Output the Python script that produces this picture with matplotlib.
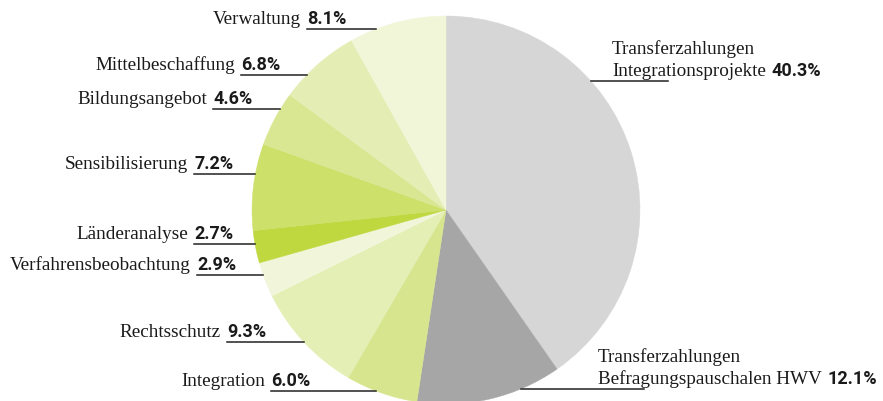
import matplotlib.pyplot as plt
import numpy as np

# slices, clockwise from 12 o'clock
categories = ["Transferzahlungen\nIntegrationsprojekte",
              "Transferzahlungen\nBefragungspauschalen HWV",
              "Integration", "Rechtsschutz", "Verfahrensbeobachtung",
              "Länderanalyse", "Sensibilisierung", "Bildungsangebot",
              "Mittelbeschaffung", "Verwaltung"]
shares = [40.3, 12.1, 6.0, 9.3, 2.9, 2.7, 7.2, 4.6, 6.8, 8.1]
colors = ["#d6d6d6", "#a6a6a6", "#d7e68e", "#e4efb5", "#f1f6da",
          "#c0d840", "#cce06a", "#d9e793", "#e4eeb4", "#f1f6d9"]

# label placement in pixels (y from top): text x, baseline y, side, line end
label_pos = [(612, 76, "r", 668), (598, 384, "r", 644),
             (271, 386, "l", None), (227, 337, "l", None),
             (197, 270, "l", None), (194, 239, "l", None),
             (194, 169, "l", None), (213, 104, "l", None),
             (241, 70, "l", None), (307, 24, "l", None)]

W, H = 883, 402
cx, cy, rad = 446, 211, 194

fig = plt.figure(figsize=(W / 100, H / 100), dpi=100)
ax = fig.add_axes([0, 0, 1, 1])

wedges, _ = ax.pie(shares, colors=colors, startangle=90, counterclock=False,
                   center=(cx, H - cy), radius=rad, frame=True)
for w in wedges:
    w.set_edgecolor(w.get_facecolor())
    w.set_linewidth(0.3)
ax.set_xlim(0, W)
ax.set_ylim(0, H)
ax.set_aspect("equal")
ax.axis("off")

serif = dict(family="Liberation Serif", size=13.8, color="#1a1a1a")
bold = dict(family="Roboto", weight="bold", size=13, color="#1a1a1a")
fig.canvas.draw()
rend = fig.canvas.get_renderer()


def edge_x(y, side):
    dx = np.sqrt(max(rad ** 2 - (y - cy) ** 2, 0))
    return cx - dx if side == "l" else cx + dx


for cat, val, (x, b, side, xend) in zip(categories, shares, label_pos):
    pct = f"{val:.1f}%"
    ly = b + 6
    if side == "l":
        ax.text(x, H - b, pct, ha="left", va="baseline", **bold)
        ax.text(x - 6, H - b, cat, ha="right", va="baseline", **serif)
        ax.plot([x, edge_x(ly, side)], [H - ly, H - ly], color="#222222", lw=1.1)
    else:
        first, second = cat.split("\n")
        ax.text(x, H - b + 21.5, first, ha="left", va="baseline", **serif)
        t = ax.text(x, H - b, second, ha="left", va="baseline", **serif)
        bb = t.get_window_extent(rend)
        ax.text(bb.x1 + 6, H - b, pct, ha="left", va="baseline", **bold)
        ax.plot([edge_x(ly, side), xend], [H - ly, H - ly], color="#222222", lw=1.1)

fig.savefig("out.png", dpi=100)
